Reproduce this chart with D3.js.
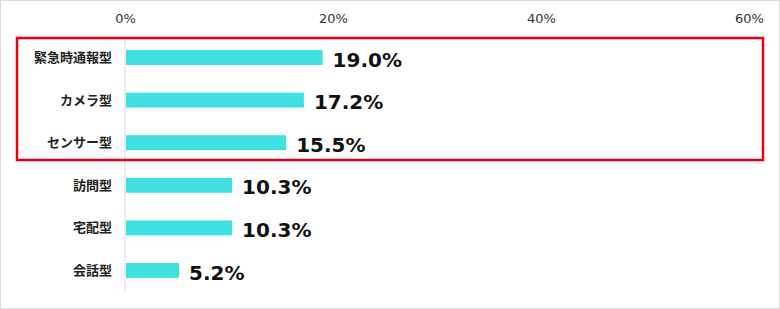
<!DOCTYPE html>
<html>
<head>
<meta charset="utf-8">
<script src="https://cdn.jsdelivr.net/npm/d3@7"></script>
<style>
    body { margin: 0; background: #fff; }
    svg { display: block; }
</style>
</head>
<body>
<div id="chart"></div>
<script>
const categories = ['緊急時通報型', 'カメラ型', 'センサー型', '訪問型', '宅配型', '会話型'];
const values = [19.0, 17.2, 15.5, 10.3, 10.3, 5.2];
const tickValues = [0, 20, 40, 60];

const width = 780, height = 309;
const font = '"Noto Sans CJK JP", "Noto Sans", sans-serif';
const numFont = '"DejaVu Sans", Verdana, sans-serif';

const svg = d3.select('#chart').append('svg')
    .attr('width', width)
    .attr('height', height);

// outer frame
svg.append('rect')
    .attr('x', 0.5).attr('y', 0.5)
    .attr('width', width - 1).attr('height', height - 1)
    .attr('fill', '#fff')
    .attr('stroke', '#d9d9d9');

const x = d3.scaleLinear().domain([0, 60]).range([125, 749]);
const y = d3.scaleBand().domain(categories).range([36, 292]).paddingInner(0.65).paddingOuter(0.33);

// top axis labels
const xAxis = d3.axisTop(x).tickValues(tickValues).tickFormat(d => d + '%').tickSize(0).tickPadding(0);
const ax = svg.append('g').attr('transform', 'translate(0,23)').call(xAxis);
ax.select('.domain').remove();
ax.selectAll('text')
    .attr('font-family', numFont)
    .attr('font-size', 13)
    .attr('fill', '#333');

// zero line
svg.append('line')
    .attr('x1', x(0)).attr('x2', x(0))
    .attr('y1', 38).attr('y2', 292)
    .attr('stroke', '#d9d9d9');

// bars
svg.append('g').selectAll('rect')
    .data(values)
    .join('rect')
    .attr('x', x(0) + 1)
    .attr('y', (d, i) => y(categories[i]))
    .attr('width', d => x(d) - x(0) - 1)
    .attr('height', y.bandwidth())
    .attr('fill', '#40e0e0');

// category labels
svg.append('g').selectAll('text')
    .data(categories)
    .join('text')
    .attr('x', 112)
    .attr('y', d => y(d) + y.bandwidth() / 2)
    .attr('dy', '0.35em')
    .attr('text-anchor', 'end')
    .attr('font-family', font)
    .attr('font-weight', 'bold')
    .attr('font-size', 13)
    .attr('fill', '#222')
    .text(d => d);

// value labels
svg.append('g').selectAll('text')
    .data(values)
    .join('text')
    .attr('x', d => x(d) + 10)
    .attr('y', (d, i) => y(categories[i]) + y.bandwidth() / 2 + 2)
    .attr('dy', '0.36em')
    .attr('font-family', numFont)
    .attr('font-weight', 'bold')
    .attr('font-size', 20)
    .attr('fill', '#111')
    .text(d => d.toFixed(1) + '%');

// highlight box
svg.append('rect')
    .attr('x', 17).attr('y', 38)
    .attr('width', 746).attr('height', 122)
    .attr('fill', 'none')
    .attr('stroke', '#e60012')
    .attr('stroke-width', 2.5);
</script>
</body>
</html>
